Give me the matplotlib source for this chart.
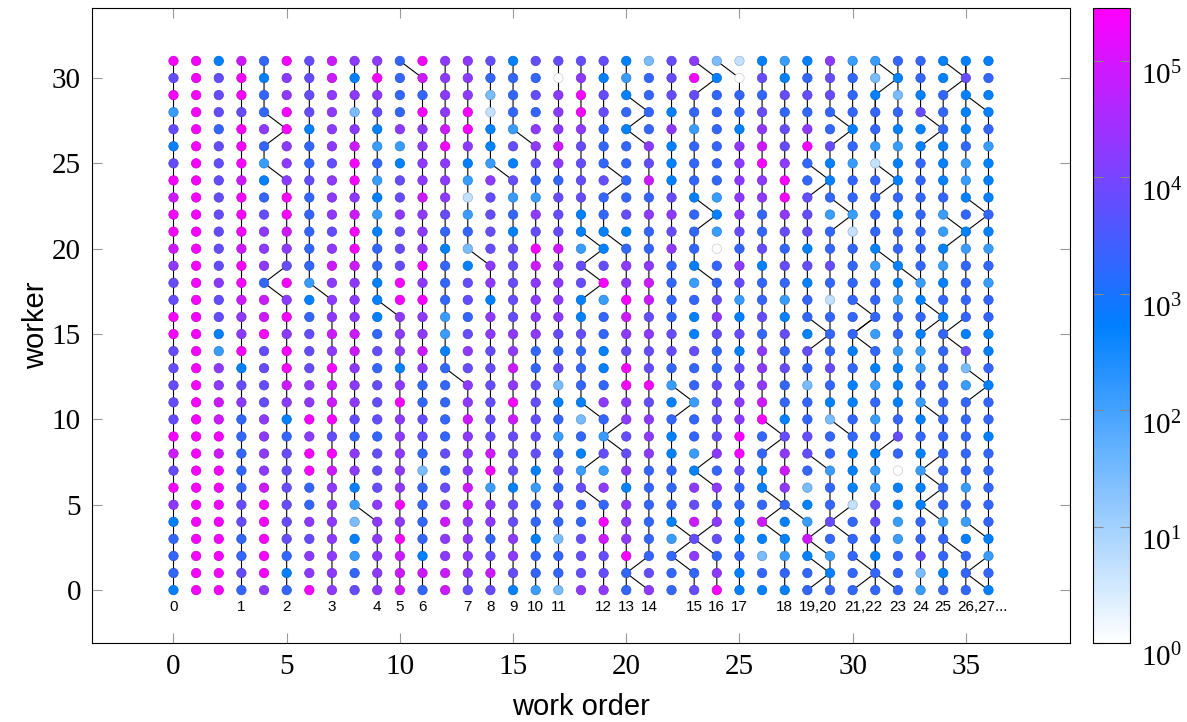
import numpy as np
import matplotlib.pyplot as plt
import matplotlib.transforms as mtransforms
from matplotlib.colors import LinearSegmentedColormap, LogNorm
from matplotlib.ticker import LogLocator, NullLocator

plt.rcParams['font.family'] = 'serif'
plt.rcParams['font.serif'] = ['Liberation Serif', 'DejaVu Serif']
plt.rcParams['mathtext.fontset'] = 'stix'

# cost level per work order column, one character per worker,
# written from worker 31 (top) down to worker 0
cost_code = [
    "96936469899876699666669869745554",
    "99999999999999999999999999999999",
    "46665666666667664377889899999999",
    "89969998999899877946755555665565",
    "54557534567775889666677778999997",
    "97799777998769797998745666666545",
    "66664556555553456667797995576779",
    "88777767776787778798896987777777",
    "74727899789987778877765774324356",
    "79764353434554445656665666777777",
    "55557346676669977747977777979888",
    "98597777877797977875566525555485",
    "77778977765455533455555656787788",
    "77799743135246656767787778877776",
    "65214437666677477666666893775686",
    "45553646354666667787986664667764",
    "65657765376987777556666643554553",
    "60777875666877776562453565652552",
    "67997666644366446555425436556667",
    "64665556554469355445753637598667",
    "43454555564577987699776674777955",
    "25555768575578867669677755555567",
    "66647444676755556653454455543555",
    "79653555455543544655355347686756",
    "24555555343055676556666757576579",
    "10554777776576346466779965544544",
    "46567897755645565777895544584254",
    "34656679976565346565546787544354",
    "45657955666464554652556652438455",
    "76655644535565155565425535565345",
    "35554535531555555454455444155555",
    "32455315555435553543535433665455",
    "54254344545544355344456504433555",
    "55464455555553454335345434455623",
    "44555444533434545555555555535545",
    "46444533454355554623555553534555",
    "45445344454353554454554555554354",
]
# cost value for each level character 0..9
code_value = [1, 4.4, 28, 130, 520, 1900, 6300, 17000, 80000, 220000]

# route of each work order: (worker, column) where it changes column
order_paths = [
    [(0, 0)],
    [(0, 3)],
    [(0, 5), (18, 4), (19, 5), (25, 4), (27, 5), (28, 4)],
    [(0, 7), (18, 6)],
    [(0, 9), (5, 8)],
    [(0, 10), (17, 9)],
    [(0, 11), (31, 10)],
    [(0, 13), (13, 12)],
    [(0, 14), (20, 13)],
    [(0, 15), (25, 14)],
    [(0, 16), (27, 15)],
    [(0, 17)],
    [(0, 19), (6, 18), (8, 19), (11, 18), (18, 19), (19, 18), (20, 19), (21, 18)],
    [(0, 20), (9, 19), (10, 20), (21, 19), (24, 20), (25, 19)],
    [(0, 21), (1, 20), (2, 21), (27, 20), (28, 21), (29, 20)],
    [(0, 23), (2, 22), (3, 23), (4, 22), (11, 23), (12, 22)],
    [(0, 24), (3, 23), (4, 24), (7, 23), (8, 24), (19, 23), (22, 24), (23, 23), (30, 24), (31, 23)],
    [(0, 25), (31, 24)],
    [(0, 27), (4, 26), (5, 27), (6, 26), (9, 27), (10, 26)],
    [(0, 28), (1, 29), (2, 28), (5, 27)],
    [(0, 29), (3, 28), (4, 29), (8, 28), (15, 29), (16, 28), (24, 29), (25, 28)],
    [(0, 30), (1, 31), (2, 30), (4, 29), (5, 30), (16, 31), (17, 30)],
    [(0, 31), (15, 30), (16, 31), (24, 32), (25, 31), (30, 32), (31, 31)],
    [(0, 32), (1, 31), (9, 32)],
    [(0, 33), (19, 32), (20, 31)],
    [(0, 34), (5, 33), (6, 34), (7, 33), (8, 34), (11, 33), (16, 34), (17, 33), (27, 34), (28, 33)],
    [(0, 35), (3, 34), (21, 35), (22, 34), (30, 35), (31, 34)],
    [(0, 36), (1, 35), (2, 36), (4, 35), (12, 36), (13, 35), (15, 34), (16, 35), (22, 36), (23, 35)],
    [(0, 36), (29, 35)],
    [(9, 30), (10, 29), (22, 30), (23, 29), (27, 30), (28, 29)],
]

# order ids written under the start column
label_cols = [0, 3, 5, 7, 9, 10, 11, 13, 14, 15, 16, 17, 19, 20, 21, 23, 24, 25, 27,
              28, 30, 32, 33, 34, 35]
label_texts = ['0', '1', '2', '3', '4', '5', '6', '7', '8', '9', '10', '11', '12', '13',
               '14', '15', '16', '17', '18', '19,20', '21,22', '23', '24', '25', '26,27...']

n_workers = len(cost_code[0])
n_orders = len(cost_code)

cost = np.array([[code_value[int(ch)] for ch in col[::-1]] for col in cost_code]).T
ww, oo = np.mgrid[0:n_workers, 0:n_orders]

cmap = LinearSegmentedColormap.from_list(
    'wbm', [(0.0, (1, 1, 1)), (0.5, (0, 0.5, 1)), (1.0, (1, 0, 1))])
norm = LogNorm(vmin=1, vmax=2.85e5)

fig = plt.figure(figsize=(11.87, 7.22), dpi=100)
ax = fig.add_axes([0.0775, 0.1094, 0.8239, 0.8795])

for path in order_paths:
    start = path[0][0]
    workers = np.arange(start, n_workers)
    cols = np.empty(len(workers))
    for i, w in enumerate(workers):
        cols[i] = [c for (bw, c) in path if bw <= w][-1]
    ax.plot(cols, workers, color='black', lw=0.8, zorder=1)

face = cmap(norm(cost.ravel()))
edge = face.copy()
edge[:, :3] *= 0.8
sc = ax.scatter(oo.ravel(), ww.ravel(), c=cost.ravel(), cmap=cmap, norm=norm,
                s=46, edgecolors=edge, linewidths=0.5, zorder=2)

for c, t in zip(label_cols, label_texts):
    first = t.split(',')[0]
    if ',' in t:
        ax.annotate(t, (c, -1.0), xytext=(-3.05 * len(first), 0),
                    textcoords='offset points', ha='left', va='center',
                    fontsize=11, family='Liberation Sans')
    else:
        ax.text(c, -1.0, t, ha='center', va='center', fontsize=11,
                family='Liberation Sans')

ax.set_xlim(-3.6, 39.6)
ax.set_ylim(-3.1, 34.1)
ax.set_xticks(range(0, 36, 5))
ax.set_yticks(range(0, 31, 5))
ax.tick_params(direction='in', top=True, right=True, length=7, width=0.8,
               color='#999999', labelsize=21, pad=8)
for sp in ax.spines.values():
    sp.set_linewidth(0.8)

ax.set_xlabel('work order', fontsize=21, family='Liberation Sans')
ax.set_ylabel('worker', fontsize=21, family='Liberation Sans')
ax.xaxis.set_label_coords(0.5, -0.078)
ax.yaxis.set_label_coords(-0.043, 0.5)

cax = fig.add_axes([0.9208, 0.1094, 0.0312, 0.8795])
cb = fig.colorbar(sc, cax=cax)
cb.ax.yaxis.set_major_locator(LogLocator(base=10, numticks=10))
cb.ax.yaxis.set_minor_locator(NullLocator())
cb.ax.tick_params(which='both', direction='in', left=True, right=True,
                  length=7.5, width=0.8, color='#888888', labelsize=21, pad=8)
cb.outline.set_linewidth(0.8)

# colorbar labels sit a little below their ticks
fig.canvas.draw()
shift = mtransforms.ScaledTranslation(0, -9 / 72, fig.dpi_scale_trans)
for tick in cb.ax.yaxis.get_major_ticks():
    tick.label2.set_transform(tick.label2.get_transform() + shift)

fig.savefig('out.png', dpi=100)
